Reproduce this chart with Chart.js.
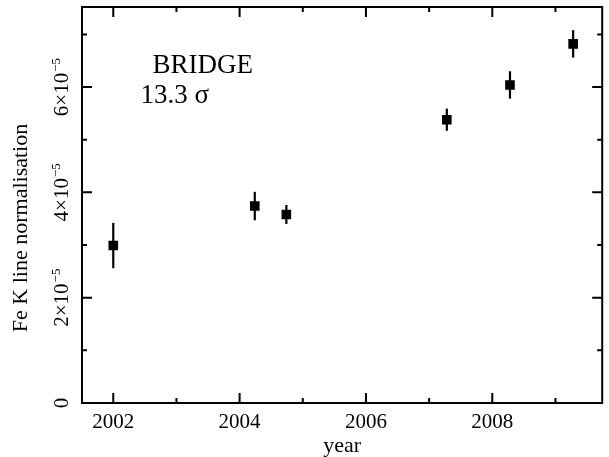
<!DOCTYPE html>
<html>
<head>
<meta charset="utf-8">
<script src="https://cdn.jsdelivr.net/npm/chart.js@4.4.0/dist/chart.umd.min.js"></script>
<style>
  body { margin: 0; background: #fff; }
</style>
</head>
<body>
<canvas id="myChart" width="609" height="457"></canvas>
<script>
// valores
var years = [2002.0, 2004.24, 2004.74, 2007.28, 2008.28, 2009.28];
var norm = [2.99e-5, 3.74e-5, 3.58e-5, 5.38e-5, 6.04e-5, 6.82e-5];
var normErr = [0.43e-5, 0.27e-5, 0.18e-5, 0.21e-5, 0.26e-5, 0.26e-5];

// ticks
var xMajor = [2002, 2004, 2006, 2008];
var xMajorLabels = ['2002', '2004', '2006', '2008'];
var xMinor = [2003, 2005, 2007, 2009];
var yMajor = [0, 2e-5, 4e-5, 6e-5];
var yMajorLabels = ['0', '2×10', '4×10', '6×10'];
var yMajorExp = ['', '−5', '−5', '−5'];
var yMinor = [1e-5, 3e-5, 5e-5, 7e-5];

var FONT = '"Liberation Serif", "DejaVu Serif", serif';

// Barras de erro (antes dos pontos)
var errorBars = {
    id: 'errorBars',
    beforeDatasetsDraw: function (chart) {
        let ctx = chart.ctx, xs = chart.scales.x, ys = chart.scales.y;
        ctx.save();
        ctx.strokeStyle = '#000';
        ctx.lineWidth = 2.2;
        for (let i = 0; i < years.length; i++) {
            let px = xs.getPixelForValue(years[i]);
            ctx.beginPath();
            ctx.moveTo(px, ys.getPixelForValue(norm[i] + normErr[i]));
            ctx.lineTo(px, ys.getPixelForValue(norm[i] - normErr[i]));
            ctx.stroke();
        }
        ctx.restore();
    }
};

// Moldura, ticks e textos
var frame = {
    id: 'frame',
    afterDraw: function (chart) {
        let ctx = chart.ctx, a = chart.chartArea, xs = chart.scales.x, ys = chart.scales.y;
        ctx.save();
        ctx.strokeStyle = '#000';
        ctx.fillStyle = '#000';
        ctx.lineWidth = 2;
        ctx.strokeRect(a.left, a.top, a.right - a.left, a.bottom - a.top);

        function xTick(v, len) {
            let px = xs.getPixelForValue(v);
            ctx.beginPath();
            ctx.moveTo(px, a.bottom); ctx.lineTo(px, a.bottom - len);
            ctx.moveTo(px, a.top); ctx.lineTo(px, a.top + len);
            ctx.stroke();
        }
        function yTick(v, len) {
            let py = ys.getPixelForValue(v);
            ctx.beginPath();
            ctx.moveTo(a.left, py); ctx.lineTo(a.left + len, py);
            ctx.moveTo(a.right, py); ctx.lineTo(a.right - len, py);
            ctx.stroke();
        }
        xMajor.forEach(v => xTick(v, 10));
        xMinor.forEach(v => xTick(v, 5));
        yMajor.forEach(v => yTick(v, 10));
        yMinor.forEach(v => yTick(v, 5));

        // labels eixo x
        ctx.font = '21px ' + FONT;
        ctx.textAlign = 'center';
        ctx.textBaseline = 'alphabetic';
        xMajor.forEach((v, i) => {
            ctx.fillText(xMajorLabels[i], xs.getPixelForValue(v), 428);
        });
        ctx.font = '22px ' + FONT;
        ctx.fillText('year', (a.left + a.right) / 2, 452);

        // labels eixo y (rotacionados)
        yMajor.forEach((v, i) => {
            let py = ys.getPixelForValue(v);
            ctx.save();
            ctx.translate(61, py);
            ctx.rotate(-Math.PI / 2);
            ctx.font = '21px ' + FONT;
            let w1 = ctx.measureText(yMajorLabels[i]).width;
            ctx.font = '13px ' + FONT;
            let w2 = yMajorExp[i] ? ctx.measureText(yMajorExp[i]).width + 1 : 0;
            let x0 = -(w1 + w2) / 2;
            ctx.textAlign = 'left';
            ctx.font = '21px ' + FONT;
            ctx.fillText(yMajorLabels[i], x0, 7);
            if (yMajorExp[i]) {
                ctx.font = '13px ' + FONT;
                ctx.fillText(yMajorExp[i], x0 + w1 + 1, -1);
            }
            ctx.restore();
        });

        ctx.save();
        ctx.translate(20, 228);
        ctx.rotate(-Math.PI / 2);
        ctx.font = '22px ' + FONT;
        ctx.textAlign = 'center';
        ctx.fillText('Fe K line normalisation', 0, 7);
        ctx.restore();

        // anotação
        ctx.font = '27px ' + FONT;
        ctx.textAlign = 'left';
        ctx.fillText('BRIDGE', xs.getPixelForValue(2002.62), ys.getPixelForValue(6.27e-5));
        ctx.fillText('13.3 σ', xs.getPixelForValue(2002.43), ys.getPixelForValue(5.70e-5));
        ctx.restore();
    }
};

const ctx = document.getElementById('myChart').getContext('2d');
const myChart = new Chart(ctx, {
    type: 'scatter',
    data: {
        datasets: [{
            label: 'Fe K',
            data: years.map((y, i) => ({ x: y, y: norm[i] })),
            backgroundColor: '#000',
            borderWidth: 0,
            pointStyle: 'rect',
            pointRadius: 6.8
        }]
    },
    options: {
        responsive: false,
        animation: false,
        layout: {
            padding: { left: 82, top: 7, right: 1, bottom: 54 }
        },
        scales: {
            x: { type: 'linear', display: false, min: 2001.505, max: 2009.74 },
            y: { type: 'linear', display: false, min: 0, max: 7.52e-5 }
        },
        plugins: {
            legend: { display: false },
            tooltip: { enabled: false }
        }
    },
    plugins: [errorBars, frame]
});
</script>
</body>
</html>
